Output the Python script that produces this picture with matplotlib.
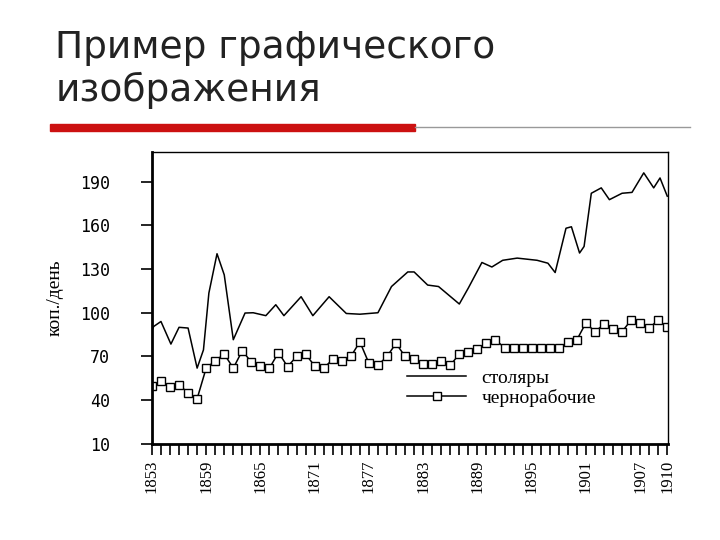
import matplotlib
matplotlib.use("Agg")
from matplotlib import pyplot as plt

# чернорабочие, по годам 1853-1910
years = list(range(1853, 1911))
chernorab = [50, 53, 49, 50.5, 45, 41, 62, 67, 71.6, 62, 74, 66, 63.5, 62, 72.7, 63,
             70, 71.6, 63.5, 62, 68, 67, 70, 80, 65.4, 64, 70, 79, 70, 68,
             64.7, 64.7, 67, 64, 71.6, 73, 75, 79, 81.4, 76, 76, 76, 76, 76, 76, 76,
             79.6, 81.4, 93, 87, 92, 89, 87, 95, 93, 89.5, 95, 90]

# столяры (точки вдоль кривой)
stol_x = [1853, 1853.2, 1854, 1855.1, 1856, 1857, 1858, 1858.7, 1859.3, 1860.2, 1861,
          1862, 1863.3, 1864.2, 1865.6, 1866.7, 1867.6, 1869.5, 1870.8, 1872.6, 1874.5,
          1876, 1878, 1879.5, 1881.3, 1882, 1883.5, 1884.7, 1887, 1888, 1889.5, 1890.6,
          1891.8, 1893.4, 1895.6, 1896.8, 1897.6, 1898.8, 1899.4, 1900.3, 1900.8,
          1901.6, 1902.7, 1903.6, 1905, 1906.1, 1907.4, 1908.5, 1909.2, 1910]
stol_y = [88, 90.6, 94, 78.5, 90, 89.5, 62, 74.5, 113.5, 140.5, 126,
          81.5, 99.8, 100, 98, 105.5, 98, 111, 98, 111, 99.5,
          99, 100, 118, 128, 128, 119, 118, 106, 117, 134.5, 131.4,
          136, 137.5, 136, 134, 127.6, 158, 159, 141, 145.5,
          182, 185.7, 177.6, 182, 182.6, 196, 185.7, 192.5, 180]

xticks = list(range(1853, 1908, 6)) + [1910]
yticks = [10, 40, 70, 100, 130, 160, 190]

plt.rcParams['font.family'] = ['Liberation Serif', 'DejaVu Serif']
fig = plt.figure(figsize=(7.2, 5.4), dpi=100)

# заголовок слайда
fig.text(0.077, 0.945, "Пример графического\nизображения", family='DejaVu Sans',
         fontsize=27, va='top', ha='left', color='#222222', linespacing=1.2)
fig.add_artist(plt.Rectangle((0.069, 0.758), 0.508, 0.012, transform=fig.transFigure,
                             color='#cc1111'))
fig.add_artist(plt.Line2D([0.577, 0.958], [0.764, 0.764], transform=fig.transFigure,
                          color='#999999', lw=1))

ax = fig.add_axes([0.211, 0.178, 0.717, 0.541])
ax.plot(stol_x, stol_y, color='black', lw=1.1, label='столяры')
ax.plot(years, chernorab, color='black', lw=1.1, marker='s', markersize=6,
        markerfacecolor='white', markeredgecolor='black', label='чернорабочие')
ax.set_xlim(1853, 1910.1)
ax.set_ylim(10, 210.5)
ax.set_yticks(yticks)
ax.set_xticks(xticks)
ax.set_xticks(years, minor=True)
ax.tick_params(axis='x', which='both', direction='out', length=8, width=1.2,
               labelrotation=90, labelsize=12)
ax.tick_params(axis='y', direction='out', length=8, width=1.2, labelsize=12, pad=22)
for lbl in ax.get_yticklabels():
    lbl.set_fontfamily('DejaVu Sans Mono')
ax.spines['left'].set_linewidth(2)
ax.spines['bottom'].set_linewidth(2)
ax.spines['top'].set_linewidth(1)
ax.spines['right'].set_linewidth(1)
ax.set_ylabel('коп./день', fontsize=14, labelpad=12)
ax.legend(loc='lower left', bbox_to_anchor=(0.48, 0.1), frameon=False, fontsize=14,
          handlelength=3, borderaxespad=0, labelspacing=0.1)

fig.savefig('out.png', dpi=100)
